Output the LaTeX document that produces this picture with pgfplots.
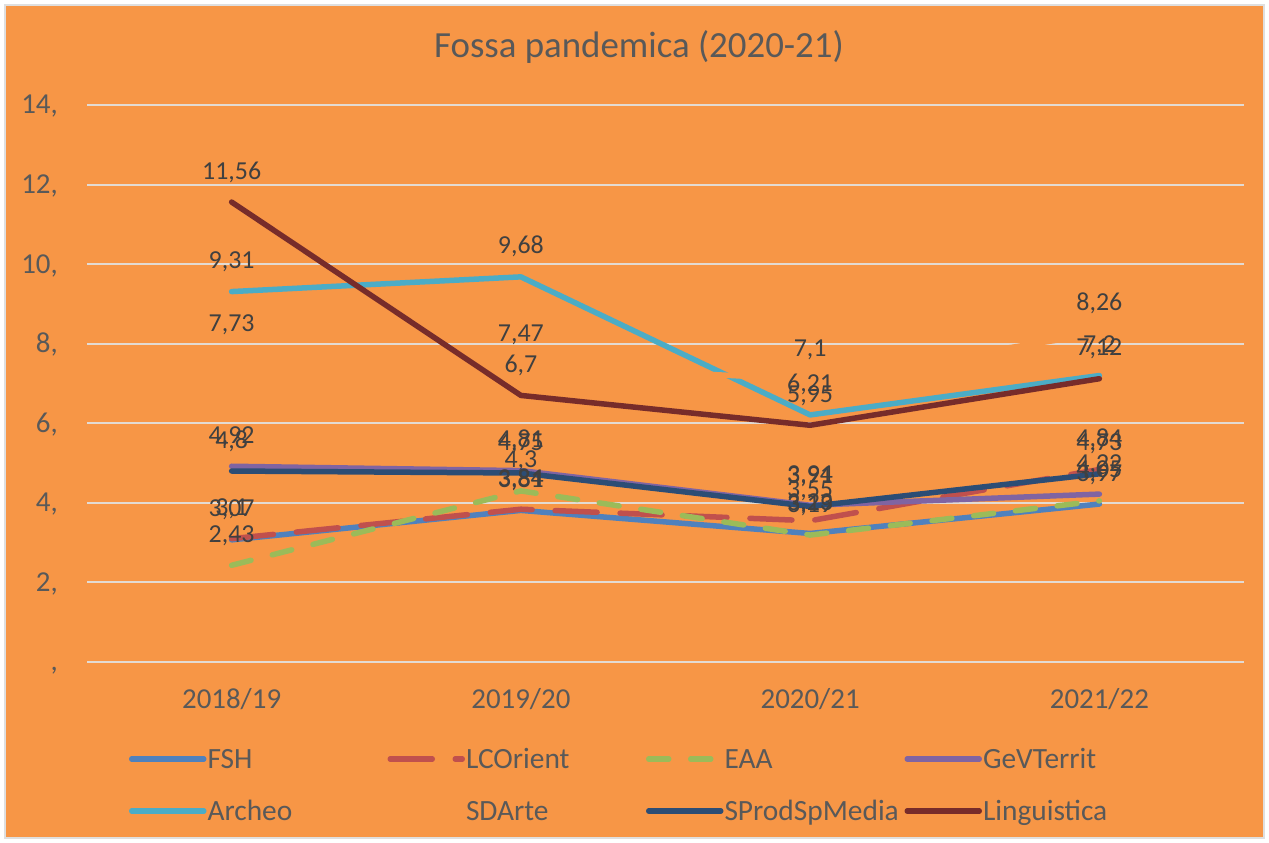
\documentclass[border=0pt]{standalone}
\usepackage{pgfplots}
\pgfplotsset{compat=1.18}
\usepackage{fontspec}
\setmainfont{Carlito}
\definecolor{bg}{HTML}{F79646}
\definecolor{gridc}{HTML}{E3DBD3}
\definecolor{txt}{HTML}{595959}
\definecolor{lbl}{HTML}{404040}
\definecolor{cFSH}{HTML}{4F81BD}
\definecolor{cLCO}{HTML}{C0504D}
\definecolor{cEAA}{HTML}{9BBB59}
\definecolor{cGeV}{HTML}{8064A2}
\definecolor{cArc}{HTML}{4BACC6}
\definecolor{cSPr}{HTML}{2C4D75}
\definecolor{cLin}{HTML}{772C2A}
\begin{document}
\begin{tikzpicture}[x=1bp,y=1bp]
\fill[white] (0,0) rectangle (1269,843);
\filldraw[fill=bg, draw=gray!25, line width=1.5bp] (5,5) rectangle (1264,838);
\node[font=\fontsize{37}{42}\selectfont, text=txt, anchor=base] at (639,785) {Fossa pandemica (2020-21)};
\begin{axis}[
  at={(87bp,181bp)}, anchor=south west,
  width=1157bp, height=557bp, scale only axis,
  xmin=-0.5, xmax=3.5, ymin=0, ymax=14,
  clip=false,
  axis line style={draw=none},
  tick style={draw=none},
  major tick length=0pt,
  ymajorgrids,
  grid style={line width=2bp, color=gridc},
  xtick={0,1,2,3},
  xticklabels={2018/19,2019/20,2020/21,2021/22},
  ytick={0,2,4,6,8,10,12,14},
  yticklabels={{,},{2,},{4,},{6,},{8,},{10,},{12,},{14,}},
  xticklabel style={font=\fontsize{29}{33}\selectfont, text=txt, anchor=base, yshift=-47bp},
  yticklabel style={font=\fontsize{29}{33}\selectfont, text=txt, anchor=base east, inner sep=0pt, xshift=-29bp, yshift=-9bp},
  /pgf/number format/.cd, use comma, fixed, precision=2, assume math mode=true,
  /pgfplots/.cd,
  nodes near coords,
  every node near coord/.append style={font=\fontsize{26}{30}\selectfont, text=lbl, anchor=base, inner sep=0pt, yshift=23bp},
  every axis plot/.append style={line width=5.5bp, line cap=round, line join=round, mark=none},
  legend columns=4,
  legend image code/.code={\draw[#1] (0bp,0bp) -- (72bp,0bp);},
  legend style={draw=none, fill=none, inner sep=0pt, outer sep=0pt,
    at={(0.0363,-0.1544)}, anchor=north west,
    font=\fontsize{29.5}{33}\selectfont, text=txt,
    row sep=30bp,
    nodes={text width=179bp, text height=20bp, text depth=2bp, inner sep=0pt, align=left},
    /tikz/every odd column/.append style={column sep=1bp},
    /tikz/every even column/.append style={column sep=1bp}},
  legend cell align=left,
]
\addplot[cFSH] coordinates {(0,3.07) (1,3.81) (2,3.23) (3,3.97)};
\addlegendentry{FSH}
\addplot[cLCO, dash pattern=on 42bp off 23bp] coordinates {(0,3.1) (1,3.84) (2,3.55) (3,4.84)};
\addlegendentry{LCOrient}
\addplot[cEAA, dash pattern=on 20bp off 22bp] coordinates {(0,2.43) (1,4.3) (2,3.19) (3,4.05)};
\addlegendentry{EAA}
\addplot[cGeV] coordinates {(0,4.92) (1,4.81) (2,3.94) (3,4.22)};
\addlegendentry{GeVTerrit}
\addplot[cArc] coordinates {(0,9.31) (1,9.68) (2,6.21) (3,7.2)};
\addlegendentry{Archeo}
\addplot[bg] coordinates {(0,7.73) (1,7.47) (2,7.1) (3,8.26)};
\addlegendentry{SDArte}
\addplot[cSPr] coordinates {(0,4.8) (1,4.75) (2,3.91) (3,4.73)};
\addlegendentry{SProdSpMedia}
\addplot[cLin] coordinates {(0,11.56) (1,6.7) (2,5.95) (3,7.12)};
\addlegendentry{Linguistica}
\end{axis}
\end{tikzpicture}
\end{document}
